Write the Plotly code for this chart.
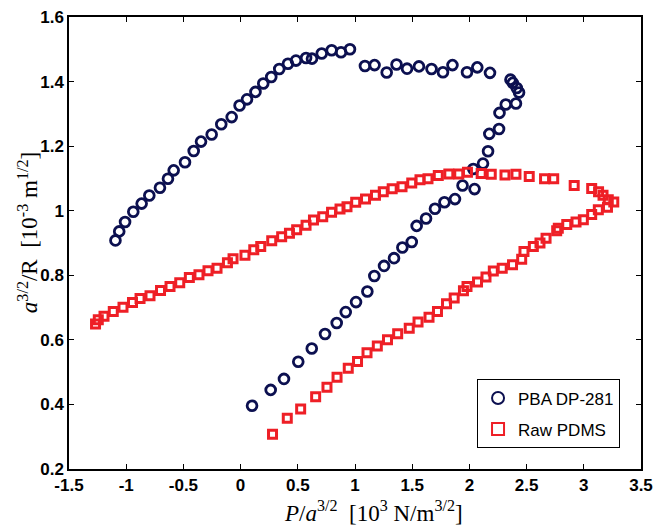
import plotly.graph_objects as go

# PBA DP-281 (blue circles)
pba_x = [0.100, 0.263, 0.379, 0.504, 0.622, 0.738, 0.840, 0.919, 1.009, 1.108,
         1.169, 1.254, 1.341, 1.414, 1.496, 1.539, 1.621, 1.699, 1.782, 1.874,
         1.940, 2.045, 2.034, 2.119, 2.163, 2.174, 2.259, 2.263, 2.318, 2.407,
         2.434, 2.414, 2.379, 2.359, 2.180, 2.069, 1.979, 1.852, 1.769, 1.669,
         1.559, 1.455, 1.363, 1.277, 1.171, 1.087, 0.956, 0.878, 0.796, 0.709,
         0.624, 0.572, 0.484, 0.414, 0.338, 0.268, 0.198, 0.130, 0.056, -0.009,
         -0.078, -0.169, -0.253, -0.346, -0.410, -0.486, -0.585, -0.635, -0.705, -0.798,
         -0.865, -0.938, -1.010, -1.061, -1.094]
pba_y = [0.396, 0.445, 0.479, 0.532, 0.573, 0.618, 0.652, 0.686, 0.717, 0.750,
         0.798, 0.829, 0.853, 0.886, 0.903, 0.953, 0.976, 1.006, 1.026, 1.036,
         1.078, 1.067, 1.129, 1.146, 1.184, 1.238, 1.253, 1.303, 1.329, 1.332,
         1.366, 1.380, 1.396, 1.406, 1.427, 1.444, 1.429, 1.451, 1.429, 1.439,
         1.447, 1.440, 1.453, 1.428, 1.451, 1.448, 1.500, 1.491, 1.497, 1.487,
         1.471, 1.473, 1.465, 1.455, 1.439, 1.414, 1.394, 1.368, 1.345, 1.326,
         1.290, 1.268, 1.236, 1.214, 1.185, 1.150, 1.125, 1.099, 1.071, 1.047,
         1.022, 0.997, 0.965, 0.936, 0.908]

# Raw PDMS (red squares)
pdms_x = [0.279, 0.408, 0.525, 0.656, 0.755, 0.843, 0.941, 1.022, 1.105, 1.195,
          1.284, 1.373, 1.474, 1.551, 1.647, 1.721, 1.800, 1.867, 1.948, 1.979,
          2.071, 2.145, 2.209, 2.287, 2.377, 2.457, 2.477, 2.559, 2.617, 2.670,
          2.763, 2.777, 2.851, 2.932, 2.996, 3.069, 3.127, 3.207, 3.262, 3.214,
          3.168, 3.129, 3.069, 2.916, 2.737, 2.657, 2.523, 2.407, 2.311, 2.191,
          2.103, 1.983, 1.907, 1.820, 1.728, 1.638, 1.568, 1.496, 1.411, 1.325,
          1.247, 1.179, 1.092, 1.006, 0.930, 0.869, 0.795, 0.718, 0.637, 0.572,
          0.490, 0.427, 0.359, 0.272, 0.176, 0.115, 0.038, -0.066, -0.115, -0.206,
          -0.285, -0.364, -0.448, -0.532, -0.617, -0.700, -0.792, -0.879, -0.945, -1.028,
          -1.113, -1.194, -1.244, -1.268]
pdms_y = [0.308, 0.357, 0.386, 0.424, 0.453, 0.484, 0.512, 0.533, 0.560, 0.581,
          0.600, 0.619, 0.636, 0.655, 0.670, 0.688, 0.712, 0.730, 0.752, 0.765,
          0.779, 0.795, 0.813, 0.822, 0.833, 0.850, 0.874, 0.889, 0.900, 0.915,
          0.938, 0.946, 0.957, 0.965, 0.972, 0.988, 1.003, 1.011, 1.027, 1.034,
          1.048, 1.059, 1.069, 1.078, 1.099, 1.099, 1.106, 1.113, 1.111, 1.113,
          1.115, 1.119, 1.114, 1.114, 1.109, 1.099, 1.096, 1.086, 1.074, 1.068,
          1.059, 1.048, 1.036, 1.026, 1.012, 1.005, 0.995, 0.981, 0.971, 0.955,
          0.941, 0.930, 0.919, 0.907, 0.889, 0.879, 0.862, 0.851, 0.839, 0.822,
          0.814, 0.802, 0.793, 0.777, 0.765, 0.753, 0.737, 0.728, 0.716, 0.701,
          0.688, 0.673, 0.662, 0.649]

x_tickvals = [-1.5, -1, -0.5, 0, 0.5, 1, 1.5, 2, 2.5, 3, 3.5]
x_ticktext = ["-1.5", "-1", "-0.5", "0", "0.5", "1", "1.5", "2", "2.5", "3", "3.5"]
y_tickvals = [0.2, 0.4, 0.6, 0.8, 1.0, 1.2, 1.4, 1.6]
y_ticktext = ["0.2", "0.4", "0.6", "0.8", "1", "1.2", "1.4", "1.6"]

x_title = "<i>P</i>/<i>a</i><sup>3/2</sup>&nbsp; [10<sup>3</sup> N/m<sup>3/2</sup>]"
y_title = "<i>a</i><sup>3/2</sup>/R&nbsp; [10<sup>-3</sup> m<sup>1/2</sup>]"

BLUE = "#0c1050"
RED = "#ee1f26"

fig = go.Figure()
fig.add_trace(go.Scatter(
    x=pba_x, y=pba_y, mode="markers", name="PBA DP-281", legendgroup="a",
    marker=dict(symbol="circle-open", size=9.8, color=BLUE, line=dict(width=2.8, color=BLUE)),
))
fig.add_trace(go.Scatter(
    x=pdms_x, y=pdms_y, mode="markers", name="Raw PDMS", legendgroup="b",
    marker=dict(symbol="square-open", size=8, color=RED, line=dict(width=3, color=RED)),
))

tickfont = dict(family="Liberation Sans, Arial", size=17, color="black", weight="bold")
titlefont = dict(family="Liberation Serif, Times New Roman", size=23, color="black")

fig.update_layout(
    width=654, height=528,
    margin=dict(l=69, r=13, t=17, b=59, autoexpand=False),
    paper_bgcolor="white", plot_bgcolor="white",
    showlegend=True,
    legend=dict(
        x=0.963, y=0.046, xanchor="right", yanchor="bottom",
        bgcolor="white", bordercolor="black", borderwidth=1.2,
        font=dict(family="Liberation Sans, Arial", size=17, color="black"),
        tracegroupgap=6, itemsizing="constant",
    ),
    annotations=[
        dict(text=x_title, xref="paper", yref="paper", x=0.533, y=-0.093,
             xanchor="center", yanchor="middle", showarrow=False, font=titlefont),
        dict(text=y_title, xref="paper", yref="paper", x=-0.0717, y=0.524,
             xanchor="center", yanchor="middle", textangle=-90, showarrow=False, font=titlefont),
    ],
)
fig.update_xaxes(
    range=[-1.5, 3.5], tickvals=x_tickvals, ticktext=x_ticktext, automargin=False,
    showgrid=False, zeroline=False, showline=True, linecolor="black", linewidth=1.5,
    mirror="ticks", ticks="inside", ticklen=5, tickcolor="black", tickwidth=1,
    tickfont=tickfont,
)
fig.update_yaxes(
    range=[0.2, 1.6], tickvals=y_tickvals, ticktext=y_ticktext, automargin=False,
    showgrid=False, zeroline=False, showline=True, linecolor="black", linewidth=1.5,
    mirror="ticks", ticks="inside", ticklen=5, tickcolor="black", tickwidth=1,
    tickfont=tickfont,
)

fig.write_html("out.html", config={"displayModeBar": False},
               post_script="document.body.style.margin='0';")
